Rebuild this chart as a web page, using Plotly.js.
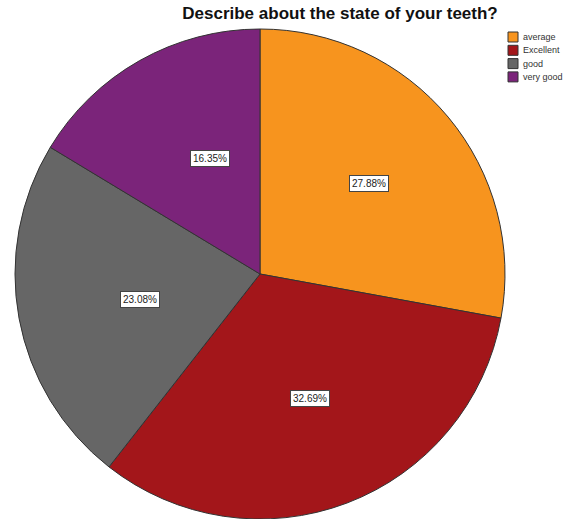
<!DOCTYPE html>
<html>
<head>
<meta charset="utf-8">
<script src="https://cdn.plot.ly/plotly-3.0.1.min.js"></script>
<style>html,body{margin:0;padding:0;background:#fff;}#chart{width:574px;height:519px;}</style>
</head>
<body>
<div id="chart"></div>
<script>
const categories = ["average", "Excellent", "good", "very good"];
const percents = [27.88, 32.69, 23.08, 16.35];
const sliceColors = ["#F7941E", "#A3161A", "#666666", "#7B247A"];
const chartTitle = "Describe about the state of your teeth?";

const W = 574, H = 519;
const FONT = "Arial, Liberation Sans, sans-serif";
const dom = {x: [14 / W, 506 / W], y: [0, 490 / H]};
const cx = (dom.x[0] + dom.x[1]) / 2 * W;
const cyUp = (dom.y[0] + dom.y[1]) / 2 * H;
const R = Math.min((dom.x[1] - dom.x[0]) * W, (dom.y[1] - dom.y[0]) * H) / 2;
const labelFrac = 0.58;

const total = percents.reduce((a, b) => a + b, 0);
let acc = 0;
const annotations = percents.map((v, i) => {
  const mid = (acc + v / 2) / total * 2 * Math.PI;
  acc += v;
  return {
    x: (cx + R * labelFrac * Math.sin(mid)) / W,
    y: (cyUp + R * labelFrac * Math.cos(mid)) / H,
    xref: "paper", yref: "paper",
    text: v.toFixed(2) + "%", showarrow: false,
    font: {family: FONT, size: 10, color: "#222"},
    bgcolor: "#ffffff", bordercolor: "#444444", borderwidth: 1, borderpad: 2
  };
});

// legend drawn as boxes + text beside the pie
const legX = 508, legY0 = 37, legStep = 13.3, box = 10;
const shapes = [];
categories.forEach((c, i) => {
  const yc = legY0 + i * legStep;
  shapes.push({
    type: "rect", xref: "paper", yref: "paper",
    x0: legX / W, x1: (legX + box) / W,
    y0: 1 - (yc + box / 2) / H, y1: 1 - (yc - box / 2) / H,
    fillcolor: sliceColors[i], line: {color: "#333333", width: 1}
  });
  annotations.push({
    x: (legX + box + 3) / W, y: 1 - yc / H, xref: "paper", yref: "paper",
    xanchor: "left", yanchor: "middle", text: c, showarrow: false,
    font: {family: FONT, size: 9, color: "#333"}
  });
});

const data = [{
  type: "pie",
  labels: categories,
  values: percents,
  sort: false,
  direction: "clockwise",
  rotation: 0,
  textinfo: "none",
  hoverinfo: "label+percent",
  marker: {colors: sliceColors, line: {color: "#333333", width: 1}},
  domain: dom
}];

const layout = {
  width: W, height: H,
  margin: {l: 0, r: 0, t: 0, b: 0},
  paper_bgcolor: "#ffffff",
  showlegend: false,
  title: {
    text: "<b>" + chartTitle + "</b>",
    x: 340 / W, xanchor: "center", y: 1 - 13 / H, yanchor: "middle",
    font: {family: FONT, size: 17, color: "#111"}
  },
  shapes: shapes,
  annotations: annotations
};

Plotly.newPlot("chart", data, layout, {displayModeBar: false, staticPlot: true});
</script>
</body>
</html>
